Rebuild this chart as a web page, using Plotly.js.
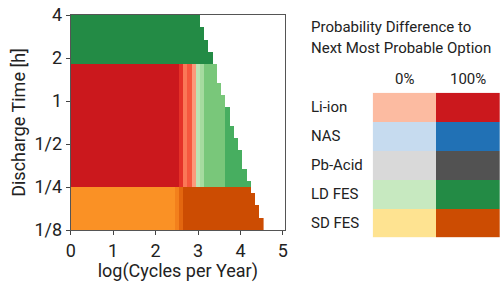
<!DOCTYPE html>
<html><head><meta charset="utf-8">
<script src="https://cdn.plot.ly/plotly-3.0.1.min.js"></script>
<style>html,body{margin:0;padding:0;background:#fff;}#chart{width:500px;height:282px;}</style>
</head><body><div id="chart"></div>
<script>
// Technologies and their colour ramps (0% -> 100% probability difference)
const techs = ['Li-ion', 'NAS', 'Pb-Acid', 'LD FES', 'SD FES'];
const ramps = {
  'Li-ion':  ['#fcbba1', '#fc9272', '#fb6a4a', '#ef3b2c', '#cb181d'],
  'NAS':     ['#c6dbef', '#9ecae1', '#6baed6', '#4292c6', '#2171b5'],
  'Pb-Acid': ['#d9d9d9', '#bdbdbd', '#969696', '#737373', '#525252'],
  'LD FES':  ['#c7e9c0', '#a1d99b', '#74c476', '#41ab5d', '#238b45'],
  'SD FES':  ['#fee391', '#fec44f', '#fe9929', '#ec7014', '#cc4c02']
};

// x grid: log(cycles per year) column centres, step 0.1
const xStep = 0.1;
const xMaxCol = 4.5;
// y grid: discharge time rows from 4 h down to 1/8 h, 7 rows per octave
const hourTop = 4, hourBottom = 0.125, rowsPerOctave = 7;

// last feasible column (log cycles) for each row, top (4 h) to bottom (1/8 h)
const rowLastX = [3.0, 3.0, 3.1, 3.1, 3.2, 3.2, 3.3, 3.3,
                  3.4, 3.4, 3.4, 3.5, 3.5, 3.6, 3.6, 3.7, 3.7, 3.7, 3.8, 3.8,
                  3.9, 3.9, 4.0, 4.0, 4.0, 4.1, 4.1, 4.2,
                  4.2, 4.3, 4.3, 4.4, 4.4, 4.5, 4.5];
// rows in each horizontal band (top to bottom)
const bandRows = [8, 20, 7];
// per band: [fromX, toX, technology, probability difference]
const bandSegments = [
  [[0.0, 4.5, 'LD FES', 1.0]],
  [[0.0, 2.5, 'Li-ion', 1.0], [2.6, 2.6, 'Li-ion', 0.82], [2.7, 2.7, 'Li-ion', 0.42],
   [2.8, 2.8, 'Li-ion', 0.6], [2.9, 2.9, 'Li-ion', 0.2], [3.0, 3.0, 'LD FES', 0.08],
   [3.1, 3.1, 'LD FES', 0.22], [3.2, 3.6, 'LD FES', 0.47], [3.7, 4.5, 'LD FES', 0.72]],
  [[0.0, 2.4, 'SD FES', 0.55], [2.5, 2.5, 'SD FES', 0.65], [2.6, 2.6, 'SD FES', 0.82],
   [2.7, 4.5, 'SD FES', 1.0]]
];

// legend table
const legendHeader = ['0%', '100%'];
const legendProb = [0, 1];
const legendTitle = ['Probability Difference to', 'Next Most Probable Option'];

// ---------- build colour scale: one ramp per technology on z in [0,5] ----------
const colorscale = [];
techs.forEach((t, i) => {
  ramps[t].forEach((c, j) => colorscale.push([(i + 0.001 + j * 0.998 / 4) / 5, c]));
});
colorscale.unshift([0, colorscale[0][1]]);
colorscale.push([1, colorscale[colorscale.length - 1][1]]);
const zval = (tech, p) => techs.indexOf(tech) + 0.001 + p * 0.998;

// ---------- build the main grid ----------
const nCols = Math.round(xMaxCol / xStep) + 1;
const xEdges = [];
for (let k = 0; k <= nCols; k++) xEdges.push((k - 0.5) * xStep);
const nRows = rowLastX.length;
const topOct = Math.log2(hourTop);
const yEdgesDesc = [];
for (let r = 0; r <= nRows; r++) yEdgesDesc.push(topOct - r / rowsPerOctave);

const zRowsDesc = [];
let r = 0;
bandRows.forEach((n, b) => {
  for (let q = 0; q < n; q++, r++) {
    const row = [];
    for (let k = 0; k < nCols; k++) {
      const x = +(k * xStep).toFixed(2);
      let v = null;
      if (x <= rowLastX[r] + 1e-9) {
        for (const s of bandSegments[b]) {
          if (x >= s[0] - 1e-9 && x <= s[1] + 1e-9) { v = zval(s[2], s[3]); break; }
        }
      }
      row.push(v);
    }
    zRowsDesc.push(row);
  }
});
const zMain = zRowsDesc.slice().reverse();
const yEdges = yEdgesDesc.slice().reverse();

// ---------- legend grid ----------
const zLegend = techs.map(t => legendProb.map(p => zval(t, p)));

const tickHours = [0.125, 0.25, 0.5, 1, 2, 4];
const tickText = ['1/8', '1/4', '1/2', '1', '2', '4'];

const font = 'Roboto, "Liberation Sans", sans-serif';
const W = 500, H = 282;
const px = x => x / W, py = y => 1 - y / H;

const traces = [
  {
    type: 'heatmap', x: xEdges, y: yEdges, z: zMain,
    colorscale: colorscale, zmin: 0, zmax: 5, showscale: false,
    zsmooth: false, hoverongaps: false, xaxis: 'x', yaxis: 'y'
  },
  {
    type: 'heatmap', x: [0, 1], y: techs, z: zLegend,
    colorscale: colorscale, zmin: 0, zmax: 5, showscale: false,
    zsmooth: false, xaxis: 'x2', yaxis: 'y2'
  }
];

const annotations = [];
techs.forEach((t, i) => annotations.push({
  xref: 'paper', yref: 'y2', x: px(309), y: t, xanchor: 'left', yanchor: 'middle',
  text: t, showarrow: false, font: {family: font, size: 15, color: '#222'}
}));
legendHeader.forEach((h, i) => annotations.push({
  xref: 'x2', yref: 'paper', x: legendProb[i], y: py(79), xanchor: 'center', yanchor: 'middle',
  text: h, showarrow: false, font: {family: font, size: 15, color: '#222'}
}));
legendTitle.forEach((l, i) => annotations.push({
  xref: 'paper', yref: 'paper', x: px(309), y: py(i === 0 ? 26.5 : 48), xanchor: 'left', yanchor: 'middle',
  text: l, showarrow: false, font: {family: font, size: 15, color: '#222'}
}));

const layout = {
  width: W, height: H,
  margin: {l: 0, r: 0, t: 0, b: 0},
  paper_bgcolor: '#fff', plot_bgcolor: '#fff',
  font: {family: font, color: '#222'},
  showlegend: false,
  xaxis: {
    domain: [px(70.7), px(285)], range: [0, 5.05],
    tickvals: [0, 1, 2, 3, 4, 5], ticks: 'outside', ticklen: 4, tickcolor: '#444',
    tickfont: {family: font, size: 18, color: '#222'},
    showline: true, linecolor: '#555', linewidth: 1, mirror: true,
    showgrid: false, zeroline: false,
    title: {text: 'log(Cycles per Year)', font: {family: font, size: 18, color: '#222'}, standoff: 2}
  },
  yaxis: {
    domain: [py(230), py(15)], range: [Math.log2(hourBottom), Math.log2(hourTop)],
    tickvals: tickHours.map(h => Math.log2(h)), ticktext: tickText,
    ticks: 'outside', ticklen: 4, tickcolor: '#444',
    tickfont: {family: font, size: 18, color: '#222'},
    showline: true, linecolor: '#555', linewidth: 1, mirror: true,
    showgrid: false, zeroline: false,
    title: {text: 'Discharge Time [h]', font: {family: font, size: 18, color: '#222'}, standoff: 4}
  },
  xaxis2: {
    domain: [px(372.7), 1], range: [-0.5, 1.5], anchor: 'y2',
    showticklabels: false, ticks: '', showgrid: false, zeroline: false, showline: false
  },
  yaxis2: {
    domain: [py(237.3), py(92.7)], range: [4.5, -0.5], anchor: 'x2',
    showticklabels: false, ticks: '', showgrid: false, zeroline: false, showline: false
  },
  annotations: annotations
};

Plotly.newPlot('chart', traces, layout, {staticPlot: true, displayModeBar: false});
</script>
</body></html>
